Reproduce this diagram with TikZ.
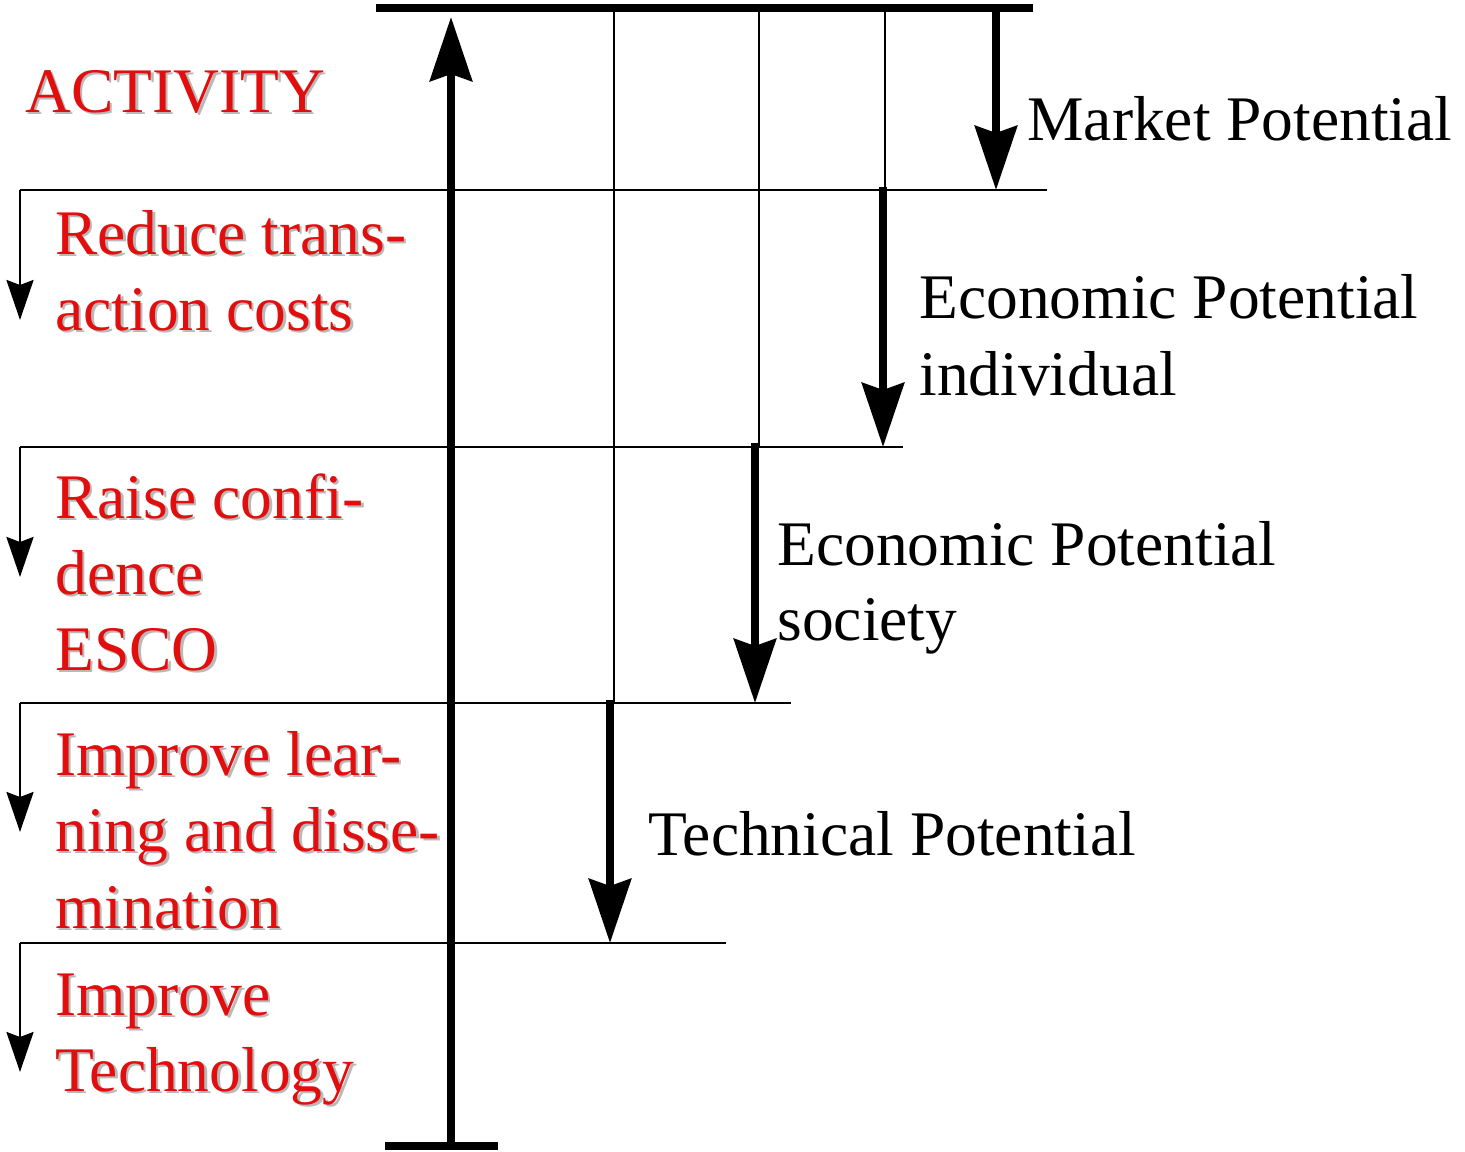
\documentclass[tikz,border=0pt]{standalone}
\usepackage{fontspec}
\setmainfont{Liberation Serif}
\usetikzlibrary{arrows.meta}
\definecolor{txtred}{RGB}{226,14,14}
\definecolor{shadowgray}{RGB}{185,185,185}
\tikzset{
  thickbar/.style={line width=4pt},
  thickarrow/.style={line width=4pt,-{Stealth[length=32pt,width=21pt,inset=3.5pt]}},
  thinline/.style={line width=1.3pt},
  smallarrow/.style={line width=1.3pt,-{Stealth[length=20pt,width=13.5pt,inset=2.5pt]}},
  basetxt/.style={anchor=base west,inner sep=0pt,font=\fontsize{31.75}{38}\selectfont},
  blacktxt/.style={basetxt,text=black},
  redtxt/.style={basetxt,text=txtred},
  shadowtxt/.style={basetxt,text=shadowgray,xshift=1.25pt,yshift=-1.25pt}
}
\newcommand\redline[3]{%
  \node[shadowtxt] (#1s) at (#2) {#3};
  \node[redtxt] (#1) at (#2) {#3};}
\begin{document}
\begin{tikzpicture}[x=0.5pt,y=-0.5pt]
\useasboundingbox (0,0) rectangle (1465,1151);
% bars
\coordinate (topL) at (376,8);
\coordinate (topR) at (1033,8);
\coordinate (botL) at (385,1146);
\coordinate (botR) at (498,1146);
\draw[thickbar] (topL) -- (topR);
\draw[thickbar] (botL) -- (botR);
% main activity arrow
\coordinate (mainB) at (451,1146);
\coordinate (mainT) at (451,17);
\draw[thickarrow] (mainB) -- (mainT);
% horizontal level lines
\coordinate (h1L) at (20,190);  \coordinate (h1R) at (1047,190);
\coordinate (h2L) at (20,447);  \coordinate (h2R) at (903,447);
\coordinate (h3L) at (20,703);  \coordinate (h3R) at (791,703);
\coordinate (h4L) at (20,943);  \coordinate (h4R) at (726,943);
\draw[thinline] (h1L) -- (h1R);
\draw[thinline] (h2L) -- (h2R);
\draw[thinline] (h3L) -- (h3R);
\draw[thinline] (h4L) -- (h4R);
% left small arrows
\coordinate (a1) at (20,320);
\coordinate (a2) at (20,577);
\coordinate (a3) at (20,832);
\coordinate (a4) at (20,1072);
\draw[smallarrow] (h1L) -- (a1);
\draw[smallarrow] (h2L) -- (a2);
\draw[smallarrow] (h3L) -- (a3);
\draw[smallarrow] (h4L) -- (a4);
% thin verticals
\coordinate (v1T) at (614,12); \coordinate (v1B) at (614,703);
\coordinate (v2T) at (759,12); \coordinate (v2B) at (759,447);
\coordinate (v3T) at (885,12); \coordinate (v3B) at (885,190);
\draw[thinline] (v1T) -- (v1B);
\draw[thinline] (v2T) -- (v2B);
\draw[thinline] (v3T) -- (v3B);
% potential arrows
\coordinate (mpT) at (996,8);   \coordinate (mpB) at (996,190);
\coordinate (eiT) at (883,187); \coordinate (eiB) at (883,447);
\coordinate (esT) at (755,443); \coordinate (esB) at (755,703);
\coordinate (tpT) at (610,700); \coordinate (tpB) at (610,943);
\draw[thickarrow] (mpT) -- (mpB);
\draw[thickarrow] (eiT) -- (eiB);
\draw[thickarrow] (esT) -- (esB);
\draw[thickarrow] (tpT) -- (tpB);
% black labels
\node[blacktxt] (mp) at (1027,140) {Market Potential};
\node[blacktxt] (ei1) at (919,318) {Economic Potential};
\node[blacktxt] (ei2) at (919,395) {individual};
\node[blacktxt] (es1) at (777,565) {Economic Potential};
\node[blacktxt] (es2) at (777,640) {society};
\node[blacktxt] (tp) at (648,855) {Technical Potential};
% red labels
\redline{act}{25,112}{ACTIVITY}
\redline{r1}{55,254}{Reduce trans-}
\redline{r2}{55,330}{action costs}
\redline{c1}{55,518}{Raise confi-}
\redline{c2}{55,594}{dence}
\redline{c3}{55,670}{ESCO}
\redline{l1}{55,775}{Improve lear-}
\redline{l2}{55,851}{ning and disse-}
\redline{l3}{55,928}{mination}
\redline{t1}{55,1015}{Improve}
\redline{t2}{55,1091}{Technology}
\end{tikzpicture}
\end{document}
